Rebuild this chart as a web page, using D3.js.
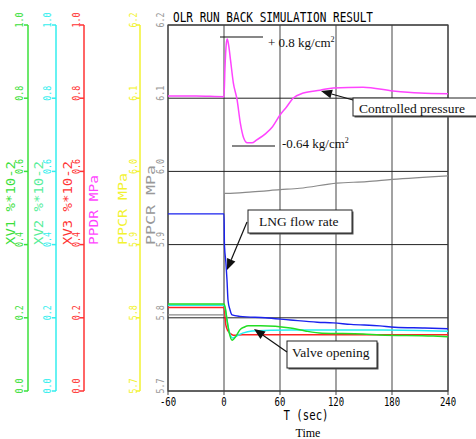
<!DOCTYPE html>
<html>
<head>
<meta charset="utf-8">
<script src="https://cdn.jsdelivr.net/npm/d3@7"></script>
<style>
  body { margin: 0; background: #fff; }
  svg { display: block; }
</style>
</head>
<body>
<svg id="chart"></svg>
<script>
// time axis (sec) and tick values
var timeTicks = [-60, 0, 60, 120, 180, 240];
var mpaTicks = [5.7, 5.8, 5.9, 6.0, 6.1, 6.2];
var xvTicks = [0.0, 0.2, 0.4, 0.6, 0.8, 1.0];

// PPDR (controlled pressure), MPa
var ppdr = [[-60, 6.103], [-30, 6.103], [0, 6.102], [1, 6.14], [2.5, 6.175], [3.5, 6.181],
  [5, 6.172], [7, 6.152], [10, 6.121], [14, 6.098], [17.5, 6.066], [21, 6.046], [25, 6.039],
  [30, 6.039], [35, 6.043], [45, 6.052], [52, 6.061], [60, 6.077], [67, 6.088], [74, 6.1],
  [85, 6.107], [103, 6.111], [117, 6.114], [149, 6.115], [181, 6.110], [210, 6.107], [240, 6.106]];

// PPCR, MPa (gray)
var ppcr = [[-60, 5.804], [0, 5.804], [0.3, 5.970], [3, 5.970], [30, 5.972], [60, 5.975],
  [81, 5.977], [121, 5.984], [153, 5.986], [180, 5.989], [240, 5.994]];

// LNG flow rate (blue), drawn on the MPa scale
var flow = [[-60, 5.942], [0, 5.942], [0.5, 5.899], [2, 5.876], [3.2, 5.852], [4.3, 5.824],
  [6.4, 5.811], [8.6, 5.804], [17, 5.802], [44, 5.800], [71, 5.797], [100, 5.794],
  [117, 5.793], [136, 5.791], [167, 5.789], [183, 5.787], [215, 5.786], [240, 5.785]];

// valve openings XV1..XV3, %*10-2
var xv1 = [[-60, 0.238], [0, 0.238], [1.5, 0.225], [3.2, 0.194], [5.5, 0.160], [8.6, 0.139],
  [12.9, 0.150], [17, 0.167], [22, 0.175], [26, 0.178], [39, 0.178], [71, 0.172], [87, 0.164],
  [105, 0.158], [149, 0.156], [167, 0.153], [224, 0.150], [240, 0.148]];
var xv2 = [[-60, 0.234], [0, 0.234], [1.5, 0.222], [3.5, 0.19], [6, 0.158], [9.6, 0.145],
  [14, 0.151], [20, 0.158], [30, 0.164], [71, 0.167], [170, 0.167], [240, 0.163]];
var xv3 = [[-60, 0.228], [0, 0.228], [2, 0.180], [4.3, 0.164], [8, 0.155], [11.8, 0.152],
  [20, 0.154], [240, 0.154]];

var width = 476, height = 439;
var svg = d3.select("#chart").attr("width", width).attr("height", height);

var plotL = 168, plotR = 448, plotT = 25, plotB = 391;
var x = d3.scaleLinear().domain([-60, 240]).range([plotL, plotR]);
var yP = d3.scaleLinear().domain([5.7, 6.2]).range([plotB, plotT]);
var yV = d3.scaleLinear().domain([0, 1]).range([plotB, plotT]);

var mono = "DejaVu Sans Mono, monospace";
var serif = "Liberation Serif, Times New Roman, serif";

// grid
svg.selectAll(".vgrid").data(timeTicks).enter().append("line")
  .attr("x1", function(d) { return x(d); }).attr("x2", function(d) { return x(d); })
  .attr("y1", plotT).attr("y2", plotB + 4)
  .attr("stroke", "#707070").attr("stroke-width", 1.3);
svg.selectAll(".hgrid").data(mpaTicks).enter().append("line")
  .attr("x1", plotL).attr("x2", plotR)
  .attr("y1", function(d) { return yP(d); }).attr("y2", function(d) { return yP(d); })
  .attr("stroke", "#222").attr("stroke-width", 1);

// title
svg.append("text").attr("x", 173).attr("y", 22)
  .attr("font-family", mono).attr("font-size", 13.5)
  .attr("textLength", 200).attr("lengthAdjust", "spacingAndGlyphs")
  .text("OLR RUN BACK SIMULATION RESULT");

// left axes
var axes = [
  { line: 28, lab: 23, tit: 15, color: "#3be03b", tcolor: "#3be03b", title: "XV1 %*10-2", tl: 84, ticks: xvTicks, scale: yV },
  { line: 56, lab: 51, tit: 43, color: "#33eeee", tcolor: "#55ee99", title: "XV2 %*10-2", tl: 84, ticks: xvTicks, scale: yV },
  { line: 84, lab: 80, tit: 72, color: "#ff3333", tcolor: "#ff3333", title: "XV3 %*10-2", tl: 84, ticks: xvTicks, scale: yV },
  { line: null, lab: null, tit: 98, color: "#ff44ff", tcolor: "#ff44ff", title: "PPDR MPa", tl: 70, ticks: [], scale: yP },
  { line: 140, lab: 137, tit: 127, color: "#f2f230", tcolor: "#f2f230", title: "PPCR MPa", tl: 72, ticks: mpaTicks, scale: yP },
  { line: null, lab: 164, tit: 155, color: "#999", tcolor: "#999", title: "PPCR MPa", tl: 80, ticks: mpaTicks, scale: yP }
];
var fmt = d3.format(".1f");

axes.forEach(function(a) {
  var g = svg.append("g");
  if (a.line !== null) {
    g.append("line").attr("x1", a.line).attr("x2", a.line)
      .attr("y1", plotT).attr("y2", plotB)
      .attr("stroke", a.color).attr("stroke-width", 1.5);
    g.selectAll(".tk").data(a.ticks).enter().append("line")
      .attr("x1", a.line - 4).attr("x2", a.line)
      .attr("y1", function(d) { return a.scale(d); }).attr("y2", function(d) { return a.scale(d); })
      .attr("stroke", a.color).attr("stroke-width", 1.5);
  }
  g.selectAll(".lb").data(a.ticks).enter().append("text")
    .attr("transform", function(d) { return "translate(" + a.lab + "," + (a.scale(d) - 5) + ") rotate(-90)"; })
    .attr("text-anchor", "middle")
    .attr("font-family", mono).attr("font-size", 11)
    .attr("textLength", 15).attr("lengthAdjust", "spacingAndGlyphs")
    .attr("fill", a.color)
    .text(function(d) { return fmt(d); });
  g.append("text")
    .attr("transform", "translate(" + a.tit + ",245) rotate(-90)")
    .attr("font-family", mono).attr("font-size", 12)
    .attr("textLength", a.tl).attr("lengthAdjust", "spacingAndGlyphs")
    .attr("fill", a.tcolor)
    .text(a.title);
});

// frame
svg.append("rect").attr("x", plotL).attr("y", plotT)
  .attr("width", plotR - plotL).attr("height", plotB - plotT)
  .attr("fill", "none").attr("stroke", "#444").attr("stroke-width", 1.2);

// x axis labels
svg.selectAll(".xl").data(timeTicks).enter().append("text")
  .attr("x", function(d) { return x(d); }).attr("y", 406)
  .attr("text-anchor", "middle")
  .attr("font-family", mono).attr("font-size", 12)
  .attr("textLength", function(d) { return String(d).length * 5.4; })
  .attr("lengthAdjust", "spacingAndGlyphs")
  .text(function(d) { return d; });
svg.append("text").attr("x", 306).attr("y", 420).attr("text-anchor", "middle")
  .attr("font-family", mono).attr("font-size", 14)
  .attr("textLength", 45).attr("lengthAdjust", "spacingAndGlyphs")
  .text("T (sec)");
svg.append("text").attr("x", 308).attr("y", 437).attr("text-anchor", "middle")
  .attr("font-family", serif).attr("font-size", 12)
  .text("Time");

// curves
function draw(data, scale, color, w) {
  var line = d3.line()
    .curve(d3.curveMonotoneX)
    .x(function(d) { return x(d[0]); })
    .y(function(d) { return scale(d[1]); });
  svg.append("path").datum(data)
    .attr("d", line)
    .attr("fill", "none").attr("stroke", color).attr("stroke-width", w);
}
draw(ppcr, yP, "#8a8a8a", 1.2);
draw(xv3, yV, "#ff2222", 1.5);
draw(xv2, yV, "#22f0f0", 1.5);
draw(xv1, yV, "#22dd22", 1.5);
draw(flow, yP, "#1a22ee", 1.4);
draw(ppdr, yP, "#ff44ff", 1.5);

// annotations
function arrow(x1, y1, x2, y2) {
  var ang = Math.atan2(y2 - y1, x2 - x1);
  var len = 11, hw = 4.5;
  var bx = x2 - len * Math.cos(ang), by = y2 - len * Math.sin(ang);
  svg.append("line").attr("x1", x1).attr("y1", y1).attr("x2", bx).attr("y2", by)
    .attr("stroke", "#111").attr("stroke-width", 1.2);
  var px = -Math.sin(ang) * hw, py = Math.cos(ang) * hw;
  svg.append("path")
    .attr("d", "M" + x2 + "," + y2 + "L" + (bx + px) + "," + (by + py) + "L" + (bx - px) + "," + (by - py) + "Z")
    .attr("fill", "#111");
}
function box(x0, y0, w, h, label, tx, ty) {
  svg.append("rect").attr("x", x0 + 1.5).attr("y", y0 + 1.5).attr("width", w).attr("height", h)
    .attr("fill", "#555");
  svg.append("rect").attr("x", x0).attr("y", y0).attr("width", w).attr("height", h)
    .attr("fill", "#fff").attr("stroke", "#222").attr("stroke-width", 1);
  svg.append("text").attr("x", tx).attr("y", ty)
    .attr("font-family", serif).attr("font-size", 13.5).attr("fill", "#111")
    .text(label);
}

// peak / dip markers
svg.append("line").attr("x1", 220).attr("x2", 263).attr("y1", 37).attr("y2", 37)
  .attr("stroke", "#111").attr("stroke-width", 1.2);
svg.append("line").attr("x1", 232).attr("x2", 275).attr("y1", 146).attr("y2", 146)
  .attr("stroke", "#111").attr("stroke-width", 1.2);
var peakTxt = svg.append("text").attr("x", 268).attr("y", 47)
  .attr("font-family", serif).attr("font-size", 13).attr("fill", "#111");
peakTxt.append("tspan").text("+ 0.8 kg/cm");
peakTxt.append("tspan").attr("font-size", 8).attr("dy", -5).text("2");
var dipTxt = svg.append("text").attr("x", 282).attr("y", 148)
  .attr("font-family", serif).attr("font-size", 13).attr("fill", "#111");
dipTxt.append("tspan").text("-0.64 kg/cm");
dipTxt.append("tspan").attr("font-size", 8).attr("dy", -5).text("2");

box(353, 98, 125, 18, "Controlled pressure", 359, 113);
arrow(353, 100, 321, 91);
box(248, 210, 104, 23, "LNG flow rate", 259, 226);
arrow(247, 222, 227, 270);
box(287, 341, 90, 27, "Valve opening", 292, 357);
arrow(287, 352, 254, 329);
</script>
</body>
</html>
